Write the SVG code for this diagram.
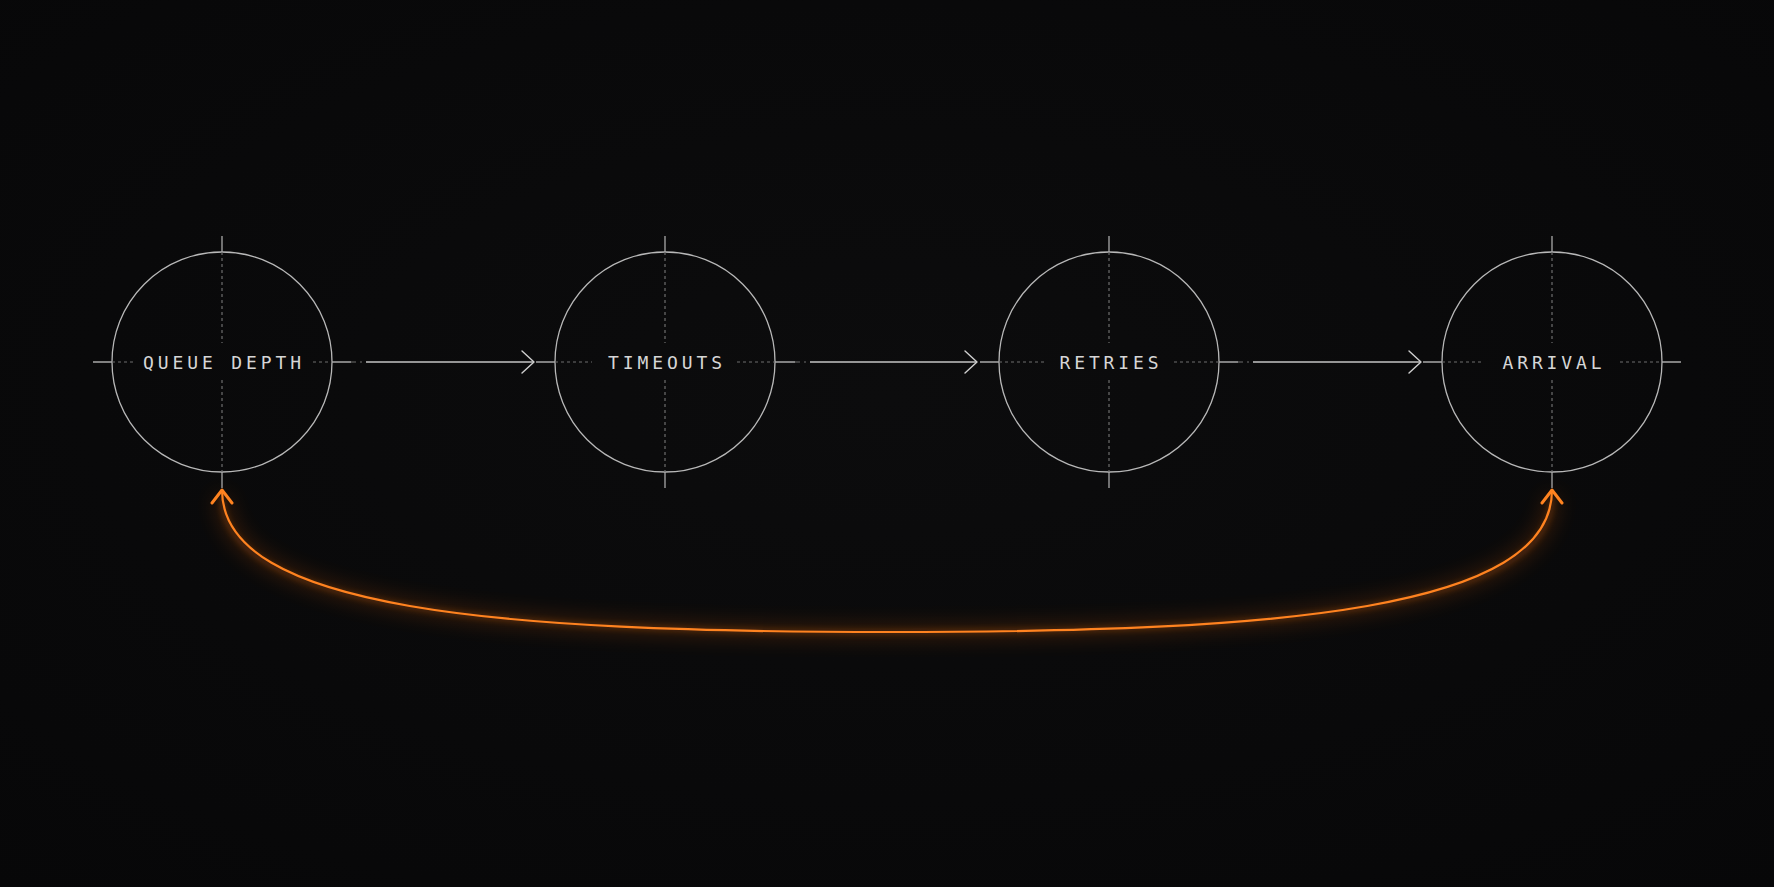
<svg xmlns="http://www.w3.org/2000/svg" width="1774" height="887" viewBox="0 0 1774 887">
  <defs>
    <radialGradient id="bg" cx="50%" cy="45%" r="75%">
      <stop offset="0" stop-color="#0c0c0d"/>
      <stop offset="1" stop-color="#070708"/>
    </radialGradient>
    <filter id="glow" x="-10%" y="-50%" width="120%" height="200%">
      <feGaussianBlur stdDeviation="10"/>
    </filter>
    <filter id="glow2" x="-10%" y="-50%" width="120%" height="200%">
      <feGaussianBlur stdDeviation="3"/>
    </filter>
    <marker id="chev" viewBox="-14 -12 16 24" markerWidth="16" markerHeight="24" refX="0" refY="0" orient="auto" markerUnits="userSpaceOnUse">
      <path d="M-12,-11 L0,0 L-12,11" fill="none" stroke="#cfcfcf" stroke-width="1.4" stroke-linecap="round" stroke-linejoin="round"/>
    </marker>
    <marker id="ochev" viewBox="-16 -13 18 26" markerWidth="18" markerHeight="26" refX="0" refY="0" orient="auto" markerUnits="userSpaceOnUse">
      <path d="M-13,-10 L0,0 L-13,10" fill="none" stroke="#ff8320" stroke-width="3" stroke-linecap="round" stroke-linejoin="round"/>
    </marker>
  </defs>
  <style>
    .ring { fill: none; stroke: #b8b8b8; stroke-width: 1.3; }
    .stub { stroke: #a8a8a8; stroke-width: 1.3; fill: none; }
    .dots { stroke: #6e6e6e; stroke-width: 1.2; stroke-dasharray: 3 3; fill: none; }
    .label { font-family: "DejaVu Sans Mono", "Liberation Mono", monospace; font-size: 18px; letter-spacing: 3.9px; fill: #d6d6d6; text-anchor: middle; }
    .flow { stroke: #c4c4c4; stroke-width: 1.4; fill: none; }
    .tail { stroke: #6e6e6e; stroke-width: 1.2; stroke-dasharray: 5 4 2 4; fill: none; }
    .loop { stroke: #ff8320; stroke-width: 2.2; fill: none; stroke-linecap: round; }
  </style>
  <rect width="1774" height="887" fill="url(#bg)"/>

  <g id="connectors">
    <path class="tail" d="M351,362 H365"/>
    <path class="tail" d="M795,362 H809"/>
    <path class="tail" d="M1238,362 H1252"/>
    <path class="flow" d="M366,362 H534" marker-end="url(#chev)"/>
    <path class="flow" d="M810,362 H977" marker-end="url(#chev)"/>
    <path class="flow" d="M1253,362 H1421" marker-end="url(#chev)"/>
    <path d="M222,496 C222,610 500,632 890,632 C1280,632 1552,610 1552,496" fill="none" stroke="#ff6a10" stroke-width="12" opacity="0.22" filter="url(#glow)"/>
    <path d="M222,496 C222,610 500,632 890,632 C1280,632 1552,610 1552,496" fill="none" stroke="#ff7a18" stroke-width="3" opacity="0.4" filter="url(#glow2)"/>
    <path class="loop" d="M890,632 C500,632 222,610 222,490" marker-end="url(#ochev)"/>
    <path class="loop" d="M890,632 C1280,632 1552,610 1552,490" marker-end="url(#ochev)"/>
  </g>

  <g id="node-queue-depth">
    <circle class="ring" cx="222" cy="362" r="110"/>
    <path class="stub" d="M93,362 H112 M332,362 H351 M222,236 V252 M222,472 V488"/>
    <path class="dots" d="M112,362 H133 M313,362 H332 M222,252 V343 M222,380 V472"/>
    <text class="label" x="224" y="368.5">QUEUE DEPTH</text>
  </g>

  <g id="node-timeouts">
    <circle class="ring" cx="665" cy="362" r="110"/>
    <path class="stub" d="M536,362 H555 M775,362 H795 M665,236 V252 M665,472 V488"/>
    <path class="dots" d="M555,362 H592 M737,362 H775 M665,252 V343 M665,380 V472"/>
    <text class="label" x="667" y="368.5">TIMEOUTS</text>
  </g>

  <g id="node-retries">
    <circle class="ring" cx="1109" cy="362" r="110"/>
    <path class="stub" d="M980,362 H999 M1219,362 H1238 M1109,236 V252 M1109,472 V488"/>
    <path class="dots" d="M999,362 H1044 M1174,362 H1219 M1109,252 V343 M1109,380 V472"/>
    <text class="label" x="1111" y="368.5">RETRIES</text>
  </g>

  <g id="node-arrival">
    <circle class="ring" cx="1552" cy="362" r="110"/>
    <path class="stub" d="M1423,362 H1442 M1662,362 H1681 M1552,236 V252 M1552,472 V488"/>
    <path class="dots" d="M1442,362 H1483 M1620,362 H1662 M1552,252 V343 M1552,380 V472"/>
    <text class="label" x="1554" y="368.5">ARRIVAL</text>
  </g>
</svg>
